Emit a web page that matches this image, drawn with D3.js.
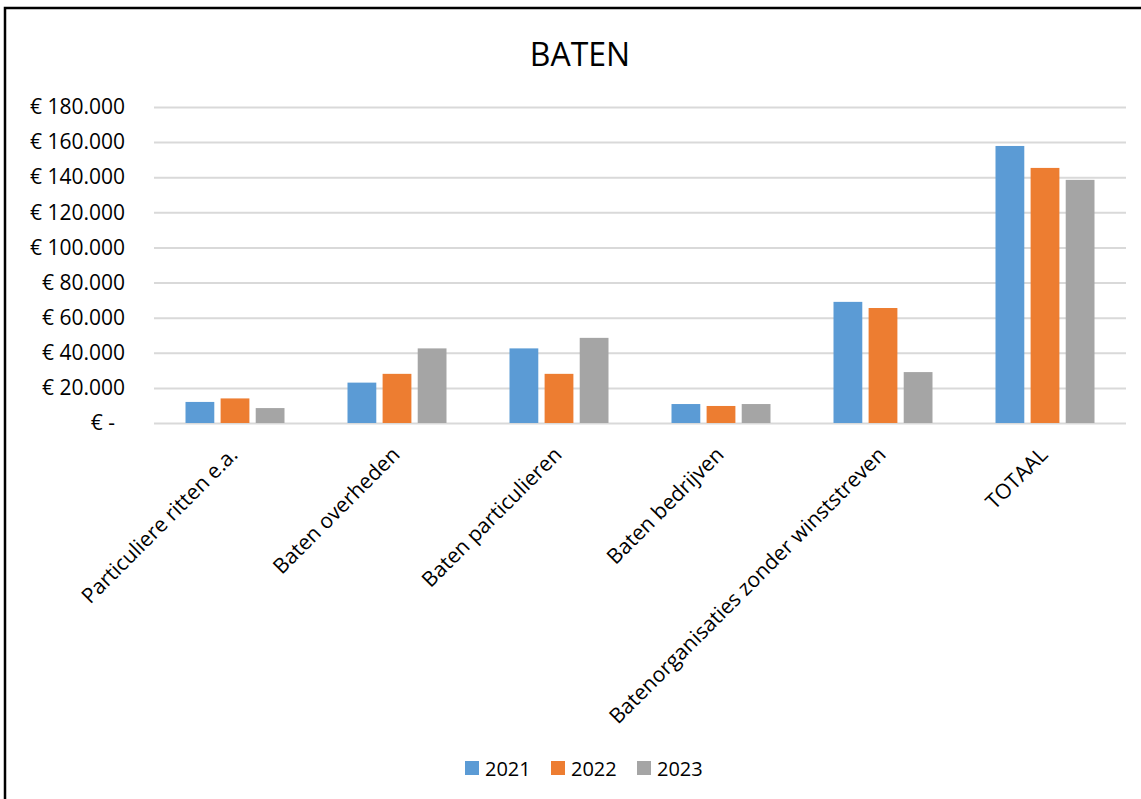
<!DOCTYPE html>
<html>
  <head>
    <script src="https://d3js.org/d3.v7.min.js"></script>
    <style>
      body { margin: 0; background: #fff; }
      text { font-family: "Open Sans", sans-serif; fill: #000; }
    </style>
  </head>
  <body>
    <div id="chart"></div>

    <script>
      const categories = [
        "Particuliere ritten e.a.",
        "Baten overheden",
        "Baten particulieren",
        "Baten bedrijven",
        "Batenorganisaties zonder winststreven",
        "TOTAAL"
      ];
      const years = ["2021", "2022", "2023"];
      const values2021 = [12000, 23000, 42500, 10800, 69000, 157800];
      const values2022 = [14000, 28000, 28000, 9700, 65500, 145300];
      const values2023 = [8500, 42500, 48500, 10800, 29000, 138500];
      const yTicks = [0, 20000, 40000, 60000, 80000, 100000, 120000, 140000, 160000, 180000];
      const colors = ["#5b9bd5", "#ed7d31", "#a5a5a5"];

      const series = [values2021, values2022, values2023];
      const data = categories.map((c, i) => ({
        cat: c,
        vals: years.map((y, j) => ({ year: y, value: series[j][i] }))
      }));

      const width = 1141;
      const height = 799;
      const margin = { top: 107, right: 15, bottom: 376, left: 154 };
      const innerW = 1126 - margin.left;
      const innerH = 423 - margin.top;

      const svg = d3.select("#chart")
        .append("svg")
        .attr("width", width)
        .attr("height", height);

      // outer frame
      svg.append("rect")
        .attr("x", 5)
        .attr("y", 8)
        .attr("width", width + 10)
        .attr("height", height + 10)
        .attr("fill", "none")
        .attr("stroke", "#000")
        .attr("stroke-width", 2.5);

      svg.append("text")
        .attr("x", 580)
        .attr("y", 66)
        .style("text-anchor", "middle")
        .style("font-size", "32px")
        .text("BATEN");

      const chart = svg.append("g")
        .attr("transform", `translate(${margin.left}, ${margin.top})`);

      const x0 = d3.scaleBand()
        .domain(categories)
        .range([0, innerW]);

      const x1 = d3.scaleBand()
        .domain(years)
        .range([0, 99])
        .paddingInner(0.18);

      const y = d3.scaleLinear()
        .domain([0, 180000])
        .range([innerH, 0]);

      // gridlines
      chart.append("g")
        .attr("class", "grid")
        .call(d3.axisLeft(y).tickValues(yTicks).tickSize(-innerW).tickFormat(""))
        .call(g => g.select(".domain").remove())
        .call(g => g.selectAll("line").attr("stroke", "#d9d9d9").attr("stroke-width", 2));

      // y labels
      const fmt = d3.formatLocale({ decimal: ",", thousands: ".", grouping: [3], currency: ["€ ", ""] }).format(",.0f");
      const yAxis = chart.append("g")
        .call(d3.axisLeft(y).tickValues(yTicks).tickSize(0).tickPadding(29)
          .tickFormat(d => d === 0 ? "€ -" : "€ " + fmt(d)))
        .call(g => g.select(".domain").remove());
      yAxis.selectAll("text")
        .style("font-size", "21px")
        .attr("fill", "#000")
        .attr("dx", d => d === 0 ? -10 : 0);

      const groups = chart.selectAll(".group")
        .data(data)
        .enter()
        .append("g")
        .attr("class", "group")
        .attr("transform", d => `translate(${x0(d.cat) + x0.bandwidth() / 2 - 49.5}, 0)`);

      groups.selectAll("rect")
        .data(d => d.vals)
        .enter()
        .append("rect")
        .attr("x", d => x1(d.year))
        .attr("y", d => y(d.value))
        .attr("width", x1.bandwidth())
        .attr("height", d => innerH - y(d.value))
        .attr("fill", (d, i) => colors[i]);

      // category labels
      chart.selectAll(".cat-label")
        .data(categories)
        .enter()
        .append("text")
        .attr("class", "cat-label")
        .attr("transform", d => `translate(${x0(d) + x0.bandwidth() / 2 + 4}, ${innerH + 33}) rotate(-45)`)
        .style("text-anchor", "end")
        .style("font-size", "21px")
        .text(d => d);

      // legend
      const legend = svg.append("g")
        .attr("transform", "translate(465, 761)");
      const items = legend.selectAll(".item")
        .data(years)
        .enter()
        .append("g")
        .attr("transform", (d, i) => `translate(${i * 86}, 0)`);
      items.append("rect")
        .attr("width", 14)
        .attr("height", 14)
        .attr("fill", (d, i) => colors[i]);
      items.append("text")
        .attr("x", 20)
        .attr("y", 15)
        .style("font-size", "20px")
        .text(d => d);
    </script>
  </body>
</html>
